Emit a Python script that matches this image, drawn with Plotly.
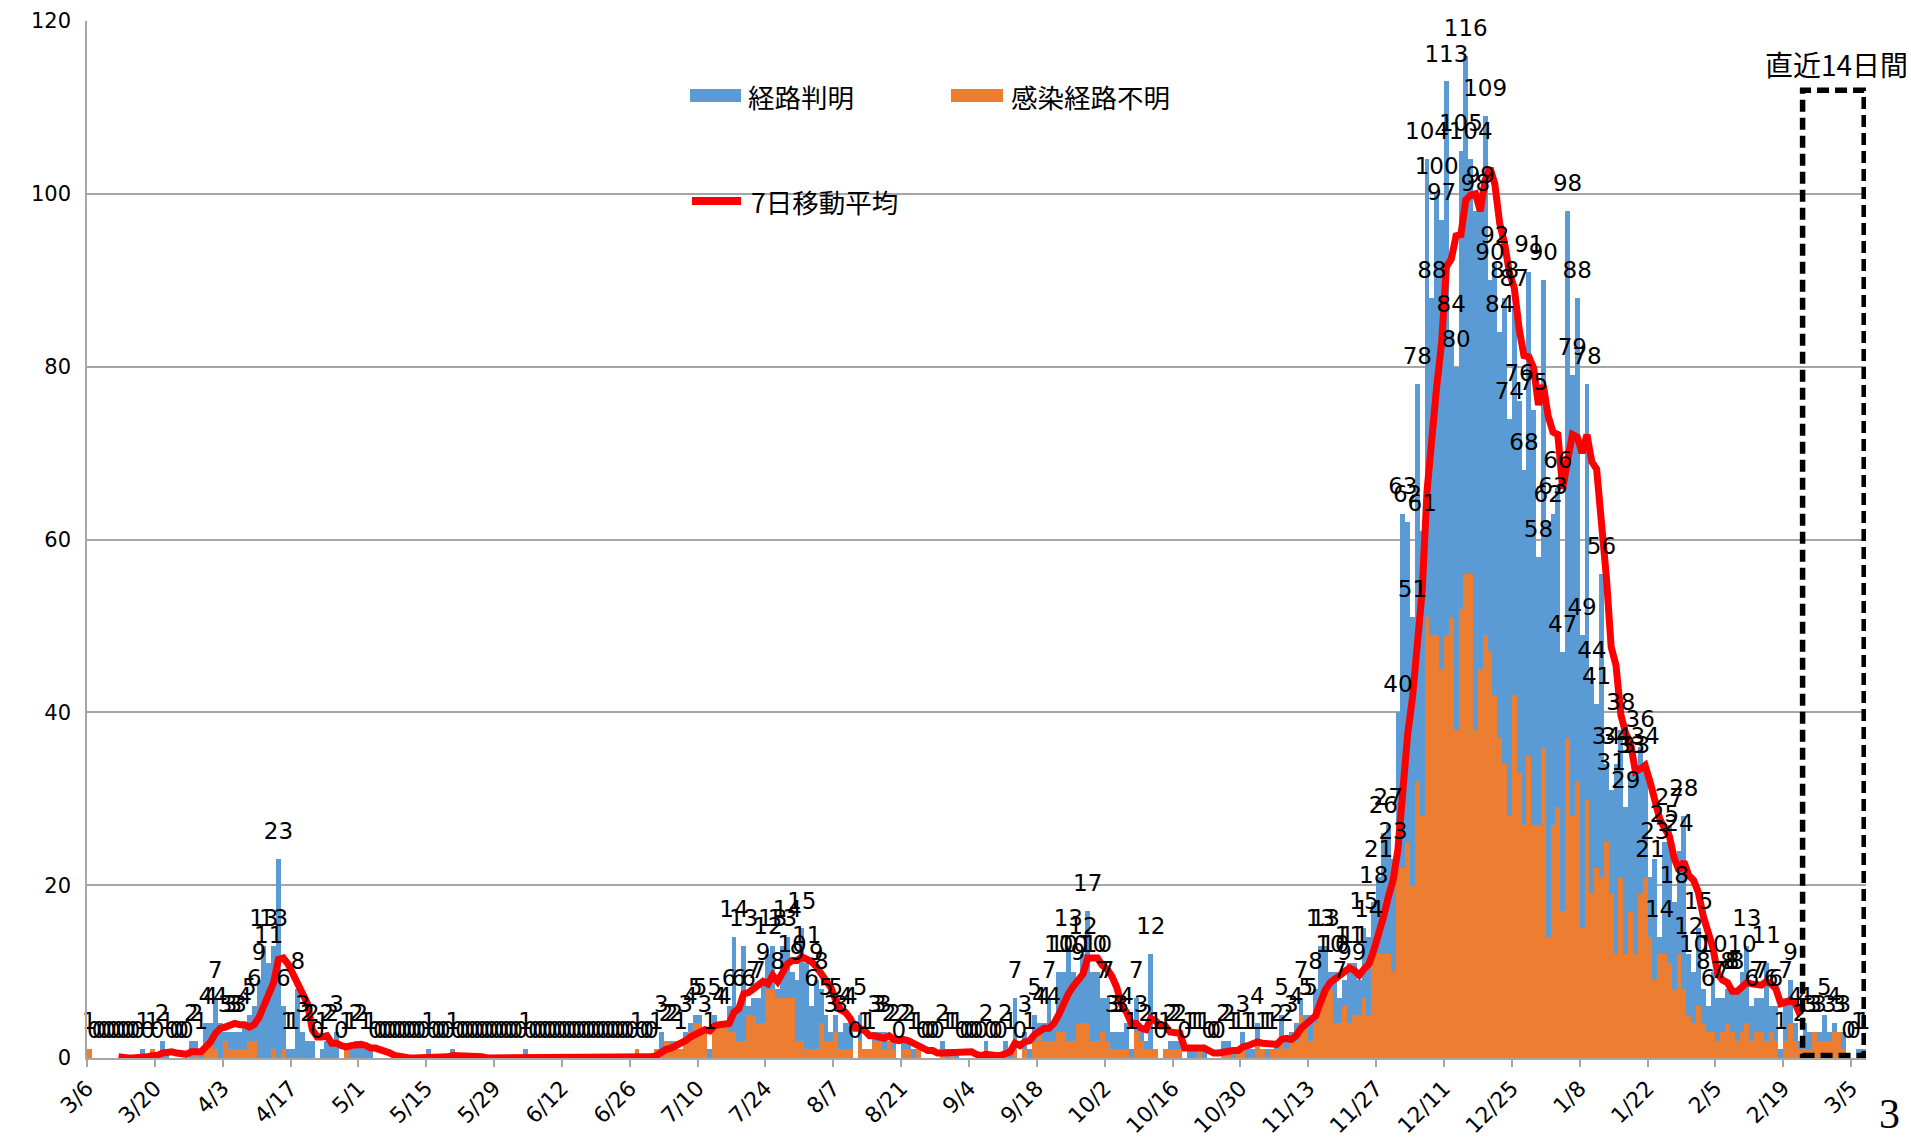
import pandas as pd
import plotly.graph_objects as go

START = "2020-03-06"

# ---- daily totals (label values) and 感染経路不明 part, by month ----
mar20_total = [1,0,0,0,0,0,0,0,0,0, 0,1,0,1,0,2,1,0,0,0, 0,2,2,1,4,4]
mar20_unknown = [1,0,0,0,0,0,0,0,0,0, 0,0,0,1,0,0,0,0,0,0, 0,0,1,0,2,2]
apr_total = [7,4,3,3,3,3,4,5,6,9, 13,11,13,23,6,1,1,8,3,2, 2,0,1,2,2,3,0,1,1,2]
apr_unknown = [1,0,2,1,1,1,1,2,2,0, 0,0,1,0,1,0,0,0,0,0, 0,0,0,0,0,0,0,1,0,0]
may_total = [2,1,1,0,0,0,0,0,0,0, 0,0,0,0,1,0,0,0,0,1, 0,0,0,0,0,0,0,0,0,0, 0]
may_unknown = [0,0,0,0,0,0,0,0,0,0, 0,0,0,0,0,0,0,0,0,0, 0,0,0,0,0,0,0,0,0,0, 0]
jun_total = [0,0,0,1,0,0,0,0,0,0, 0,0,0,0,0,0,0,0,0,0, 0,0,0,0,0,0,1,0,0,0]
jun_unknown = [0,0,0,0,0,0,0,0,0,0, 0,0,0,0,0,0,0,0,0,0, 0,0,0,0,0,0,1,0,0,0]
jul_total = [1,3,2,2,2,1,3,4,5,5, 3,1,5,4,4,6,14,6,13,6, 7,7,9,12,13,8,13,14,10,9, 15]
jul_unknown = [1,1,2,1,2,1,2,3,4,4, 3,0,4,4,4,3,3,2,2,5, 5,4,4,8,8,7,7,7,7,2, 2]
aug_total = [11,6,9,8,5,3,5,3,4,4, 0,5,1,1,3,3,3,2,2,0, 2,2,1,1,0,0,0,0,2,1, 1]
aug_unknown = [1,1,1,4,2,2,3,1,1,1, 0,2,1,1,2,2,1,2,1,0, 1,1,0,1,0,0,0,0,1,0, 1]
sep_total = [1,0,0,0,0,0,2,0,0,0, 2,1,7,0,3,1,5,4,4,7, 4,10,10,13,10,9,12,17,10,10]
sep_unknown = [0,0,0,0,0,0,1,0,0,0, 1,0,1,0,1,0,2,3,2,2, 2,3,3,2,2,4,4,4,2,2]
oct_total = [7,7,3,3,3,4,1,7,3,2, 12,1,0,1,2,2,2,0,1,1, 1,1,0,0,0,2,2,1,1,3, 1]
oct_unknown = [3,2,1,1,1,1,0,3,2,1, 1,1,0,1,1,1,1,0,0,0, 1,0,0,0,0,1,1,0,1,1, 0]
nov_total = [1,4,1,1,1,2,5,2,3,4, 7,5,5,8,13,13,10,10,7,9, 11,11,9,15,14,18,21,26,27,23]
nov_unknown = [0,2,1,0,1,1,2,1,2,2, 5,4,2,4,7,8,8,4,4,6, 4,5,5,7,5,12,12,12,12,10]
dec_total = [40,63,62,51,78,61,104,88,100,97, 113,84,80,105,116,104,98,99,109,90,
             92,84,88,74,87,76,68,91,75,58, 90]
dec_unknown = [22,22,25,20,32,28,51,49,49,45, 49,51,38,52,56,56,38,45,49,47,
               42,37,34,28,42,33,27,35,27,27, 36]
jan_total = [62,63,66,47,98,79,88,49,78,44, 41,56,34,31,34,38,29,33,33,36,
             34,21,23,14,25,27,18,24,28,12, 10]
jan_unknown = [14,27,29,17,37,28,32,15,30,19, 22,21,25,19,12,21,12,17,12,19,
               21,14,9,12,12,11,8,12,8,5, 4]
feb_total = [15,8,6,10,7,7,8,8,8,10, 13,6,7,7,11,6,6,1,7,9, 4,2,4,3,3,3,5,3]
feb_unknown = [6,4,3,3,2,3,4,3,2,3, 4,2,3,3,2,3,2,0,2,4, 2,1,1,1,3,2,2,2]
mar21_total = [4,3,3,0,0,1,1]
mar21_unknown = [3,3,1,0,0,0,0]

MA_LAST_DAY = "2021-02-22"      # the moving-average line stops here
BOX_FIRST_DAY = "2021-02-23"    # 直近14日間 box
BOX_LAST = "2021-03-07 17:00"
X_END = "2021-03-08 02:00"

total = (mar20_total + apr_total + may_total + jun_total + jul_total + aug_total +
         sep_total + oct_total + nov_total + dec_total + jan_total + feb_total + mar21_total)
unknown = (mar20_unknown + apr_unknown + may_unknown + jun_unknown + jul_unknown +
           aug_unknown + sep_unknown + oct_unknown + nov_unknown + dec_unknown +
           jan_unknown + feb_unknown + mar21_unknown)
known = [t - u for t, u in zip(total, unknown)]

dates = pd.date_range(START, periods=len(total), freq="D")
centers = dates + pd.Timedelta(hours=12)
ma = pd.Series(total, index=dates).rolling(7).mean()
ma[ma.index > pd.Timestamp(MA_LAST_DAY)] = None

BLUE = "#5B9BD5"
ORANGE = "#ED7D31"
RED = "#FF0000"
GRID = "#A6A6A6"
DAY_MS = 86400000

fig = go.Figure()
fig.add_trace(go.Bar(x=centers, y=unknown, width=DAY_MS, marker=dict(color=ORANGE, line=dict(width=0)),
                     name="感染経路不明", hoverinfo="skip"))
fig.add_trace(go.Bar(x=centers, y=known, width=DAY_MS, marker=dict(color=BLUE, line=dict(width=0)),
                     name="経路判明", hoverinfo="skip"))
fig.add_trace(go.Scatter(x=centers, y=ma.values, mode="lines", line=dict(color=RED, width=7),
                         name="7日移動平均", hoverinfo="skip", connectgaps=False))
fig.add_trace(go.Scatter(x=centers, y=total, mode="markers+text", text=[str(v) for v in total],
                         textposition="top center",
                         textfont=dict(family="DejaVu Sans", size=23, color="black"),
                         marker=dict(size=21, color="rgba(0,0,0,0)"),
                         hoverinfo="skip", showlegend=False, cliponaxis=False))

W, H = 1911, 1139
L, R, T, B = 87, 45, 21, 81
PW, PH = W - L - R, H - T - B


def px(x):
    return (x - L) / PW


def py(y):
    return (H - B - y) / PH


shapes = [
    dict(type="rect", xref="x", yref="y", x0=BOX_FIRST_DAY, x1=BOX_LAST, y0=0.3, y1=112,
         line=dict(color="black", width=5.5, dash="12px,6px"), fillcolor="rgba(0,0,0,0)"),
    dict(type="rect", xref="paper", yref="paper", x0=px(690), x1=px(741), y0=py(102), y1=py(89),
         line=dict(width=0), fillcolor=BLUE),
    dict(type="rect", xref="paper", yref="paper", x0=px(951), x1=px(1003), y0=py(102), y1=py(89),
         line=dict(width=0), fillcolor=ORANGE),
    dict(type="line", xref="paper", yref="paper", x0=px(692), x1=px(741), y0=py(201), y1=py(201),
         line=dict(color=RED, width=8)),
]
LEG_FONT = dict(family="Noto Sans CJK JP", size=26.5, color="black")
annotations = [
    dict(text="経路判明", x=px(746), y=py(96), xref="paper", yref="paper", xanchor="left",
         yanchor="middle", showarrow=False, font=LEG_FONT),
    dict(text="感染経路不明", x=px(1009), y=py(96), xref="paper", yref="paper", xanchor="left",
         yanchor="middle", showarrow=False, font=LEG_FONT),
    dict(text="7日移動平均", x=px(749), y=py(201), xref="paper", yref="paper", xanchor="left",
         yanchor="middle", showarrow=False, font=LEG_FONT),
    dict(text="直近14日間", x=px(1836), y=py(64), xref="paper", yref="paper", xanchor="center",
         yanchor="middle", showarrow=False,
         font=dict(family="Noto Sans CJK JP", size=28, color="black")),
    dict(text="3", x=px(1889), y=py(1138), xref="paper", yref="paper", xanchor="center",
         yanchor="bottom", showarrow=False, borderpad=0,
         font=dict(family="Liberation Serif", size=42, color="black")),
]

fig.update_layout(
    width=W, height=H,
    margin=dict(l=L, r=R, t=T, b=B, pad=0),
    paper_bgcolor="white", plot_bgcolor="white",
    barmode="stack", bargap=0,
    showlegend=False,
    shapes=shapes, annotations=annotations,
    font=dict(family="DejaVu Sans", color="black"),
)
fig.update_xaxes(
    type="date", range=[START, X_END], automargin=False,
    tick0=START, dtick=14 * DAY_MS, tickformat="%-m/%-d", tickangle=-45,
    ticks="outside", ticklen=7, tickcolor=GRID, tickwidth=1.5,
    showline=True, linecolor=GRID, linewidth=1.5,
    showgrid=False, zeroline=False,
    tickfont=dict(family="DejaVu Sans", size=22, color="black"),
)
fig.update_yaxes(
    range=[0, 120], dtick=20, showgrid=True, gridcolor=GRID, gridwidth=1.5,
    showline=True, linecolor=GRID, linewidth=1.5, zeroline=False, automargin=False,
    ticks="", ticklabelstandoff=10,
    tickfont=dict(family="DejaVu Sans", size=21, color="black"),
)

fig.write_html("out.html", config={"displayModeBar": False},
               post_script="document.body.style.margin='0';document.body.style.overflow='hidden';")
